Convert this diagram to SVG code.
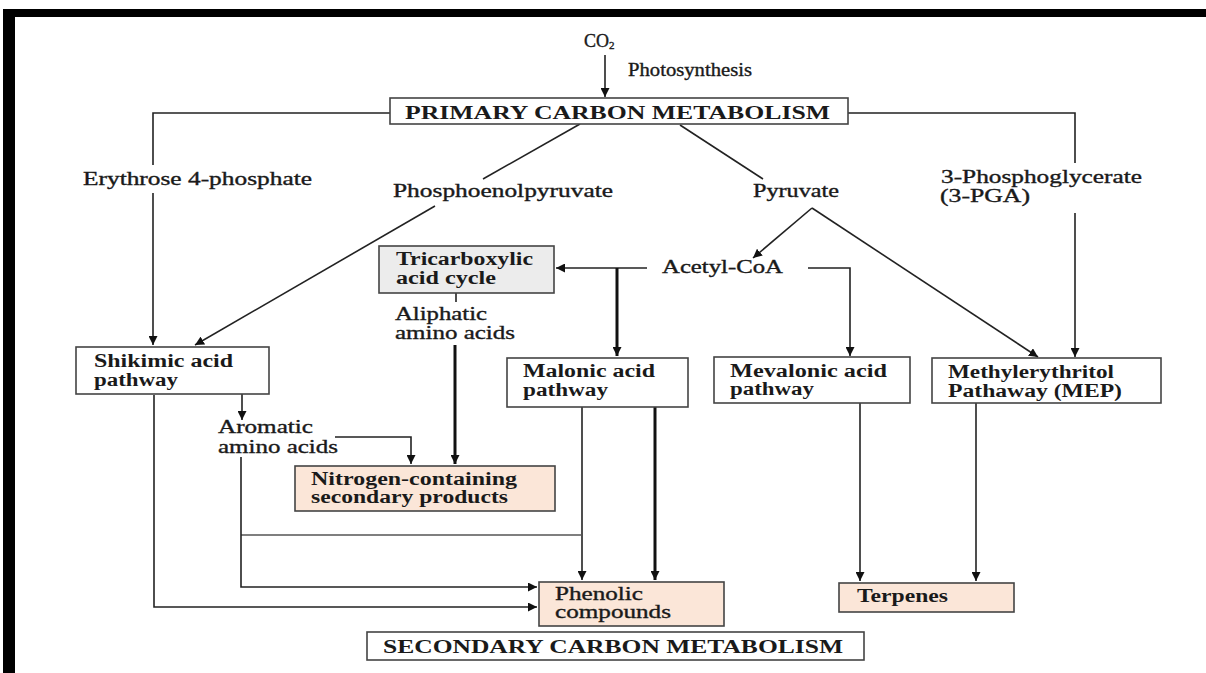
<svg xmlns="http://www.w3.org/2000/svg" width="1206" height="673" viewBox="0 0 1206 673">
<style>
text{font-family:"Liberation Serif","Times New Roman",serif;font-size:18px;fill:#1a1a1a}
.r{stroke:#1a1a1a;stroke-width:0.35}
.b{font-weight:bold}
.box{fill:#fff;stroke:#444;stroke-width:1.6}
.peach{fill:#fbe6d8;stroke:#444;stroke-width:1.6}
.gray{fill:#ececec;stroke:#444;stroke-width:1.6}
.ln{fill:none;stroke:#222;stroke-width:1.6}
.thk{fill:none;stroke:#111;stroke-width:3}
.lt{fill:none;stroke:#555;stroke-width:1.3}
</style>
<defs>
<marker id="ah" viewBox="0 0 10 10" refX="10" refY="5" markerWidth="9" markerHeight="9" markerUnits="userSpaceOnUse" orient="auto">
<path d="M0,0 L10,5 L0,10 z" fill="#111"/>
</marker>
</defs>
<rect width="1206" height="673" fill="#fff"/>
<g id="frame">
<rect x="3" y="9" width="1203" height="8" fill="#000"/>
<rect x="3" y="9" width="12" height="664" fill="#000"/>
</g>
<g id="connectors">
<path class="ln" d="M605,55 V97" marker-end="url(#ah)"/>
<path class="ln" d="M390,113 H153 V165"/>
<path class="ln" d="M153,193 V345" marker-end="url(#ah)"/>
<path class="ln" d="M580,124 L483,179"/>
<path class="ln" d="M435,206 L195,345" marker-end="url(#ah)"/>
<path class="ln" d="M680,125 L763,179"/>
<path class="ln" d="M812,208 L753,258" marker-end="url(#ah)"/>
<path class="ln" d="M812,208 L1038,357" marker-end="url(#ah)"/>
<path class="ln" d="M848,113 H1075 V163"/>
<path class="ln" d="M1075,213 V357" marker-end="url(#ah)"/>
<path class="ln" d="M647,268 H556" marker-end="url(#ah)"/>
<path class="thk" d="M617,268 V356" marker-end="url(#ah)"/>
<path class="ln" d="M808,268 H850 V356" marker-end="url(#ah)"/>
<path class="ln" d="M456,293 V302"/>
<path class="thk" d="M455,345 V464" marker-end="url(#ah)"/>
<path class="ln" d="M242,394 V420" marker-end="url(#ah)"/>
<path class="ln" d="M335,437 H411 V464" marker-end="url(#ah)"/>
<path class="ln" d="M582,407 V580" marker-end="url(#ah)"/>
<path class="thk" d="M655,407 V580" marker-end="url(#ah)"/>
<path class="lt" d="M241,535 H582"/>
<path class="ln" d="M241,457 V587 H537" marker-end="url(#ah)"/>
<path class="ln" d="M154,395 V607 H537" marker-end="url(#ah)"/>
<path class="ln" d="M860,403 V581" marker-end="url(#ah)"/>
<path class="ln" d="M976,403 V581" marker-end="url(#ah)"/>
</g>
<g id="co2">
<text class="r" x="584" y="47" font-size="17">CO<tspan font-size="11" dy="2">2</tspan></text>
<text class="r" x="628" y="76" font-size="17" textLength="124" lengthAdjust="spacingAndGlyphs">Photosynthesis</text>
</g>
<g id="primary">
<rect class="box" x="390" y="98" width="458" height="26"/>
<text class="b" x="405" y="119" font-size="17.5" textLength="425" lengthAdjust="spacingAndGlyphs">PRIMARY CARBON METABOLISM</text>
</g>
<g id="erythrose">
<text class="r" x="83" y="185" font-size="17" textLength="229" lengthAdjust="spacingAndGlyphs">Erythrose 4-phosphate</text>
</g>
<g id="pep">
<text class="r" x="393" y="197" textLength="220" lengthAdjust="spacingAndGlyphs">Phosphoenolpyruvate</text>
</g>
<g id="pyruvate">
<text class="r" x="753" y="197" textLength="86" lengthAdjust="spacingAndGlyphs">Pyruvate</text>
</g>
<g id="pga">
<text class="r" x="941" y="183" textLength="201" lengthAdjust="spacingAndGlyphs">3-Phosphoglycerate</text>
<text class="r" x="940" y="202" textLength="90" lengthAdjust="spacingAndGlyphs">(3-PGA)</text>
</g>
<g id="tca">
<rect class="gray" x="379" y="246" width="175" height="47"/>
<text class="b" x="396" y="265" textLength="137" lengthAdjust="spacingAndGlyphs">Tricarboxylic</text>
<text class="b" x="396" y="284" textLength="100" lengthAdjust="spacingAndGlyphs">acid cycle</text>
</g>
<g id="acetyl">
<text class="r" x="662" y="273" textLength="121" lengthAdjust="spacingAndGlyphs">Acetyl-CoA</text>
</g>
<g id="aliphatic">
<text class="r" x="395" y="320" textLength="92" lengthAdjust="spacingAndGlyphs">Aliphatic</text>
<text class="r" x="395" y="339" textLength="120" lengthAdjust="spacingAndGlyphs">amino acids</text>
</g>
<g id="shikimic">
<rect class="box" x="76" y="347" width="193" height="47"/>
<text class="b" x="94" y="367" textLength="139" lengthAdjust="spacingAndGlyphs">Shikimic acid</text>
<text class="b" x="94" y="386" textLength="84" lengthAdjust="spacingAndGlyphs">pathway</text>
</g>
<g id="malonic">
<rect class="box" x="507" y="358" width="181" height="49"/>
<text class="b" x="523" y="377" textLength="132" lengthAdjust="spacingAndGlyphs">Malonic acid</text>
<text class="b" x="523" y="396" textLength="85" lengthAdjust="spacingAndGlyphs">pathway</text>
</g>
<g id="mevalonic">
<rect class="box" x="714" y="357" width="196" height="46"/>
<text class="b" x="730" y="377" textLength="157" lengthAdjust="spacingAndGlyphs">Mevalonic acid</text>
<text class="b" x="730" y="395" textLength="84" lengthAdjust="spacingAndGlyphs">pathway</text>
</g>
<g id="mep">
<rect class="box" x="932" y="358" width="229" height="45"/>
<text class="b" x="948" y="378" textLength="166" lengthAdjust="spacingAndGlyphs">Methylerythritol</text>
<text class="b" x="948" y="397" textLength="174" lengthAdjust="spacingAndGlyphs">Pathaway (MEP)</text>
</g>
<g id="aromatic">
<text class="r" x="218" y="433" textLength="95" lengthAdjust="spacingAndGlyphs">Aromatic</text>
<text class="r" x="218" y="453" textLength="120" lengthAdjust="spacingAndGlyphs">amino acids</text>
</g>
<g id="nitrogen">
<rect class="peach" x="295" y="466" width="260" height="45"/>
<text class="b" x="311" y="485" textLength="206" lengthAdjust="spacingAndGlyphs">Nitrogen-containing</text>
<text class="b" x="311" y="503" textLength="197" lengthAdjust="spacingAndGlyphs">secondary products</text>
</g>
<g id="phenolic">
<rect class="peach" x="539" y="582" width="185" height="44"/>
<text class="r" x="555" y="600" textLength="88" lengthAdjust="spacingAndGlyphs">Phenolic</text>
<text class="r" x="555" y="618" textLength="116" lengthAdjust="spacingAndGlyphs">compounds</text>
</g>
<g id="terpenes">
<rect class="peach" x="839" y="583" width="175" height="29"/>
<text class="b" x="857" y="602" textLength="91" lengthAdjust="spacingAndGlyphs">Terpenes</text>
</g>
<g id="secondary">
<rect class="box" x="367" y="632" width="497" height="28"/>
<text class="b" x="383" y="653" font-size="17.5" textLength="460" lengthAdjust="spacingAndGlyphs">SECONDARY CARBON METABOLISM</text>
</g>
</svg>
